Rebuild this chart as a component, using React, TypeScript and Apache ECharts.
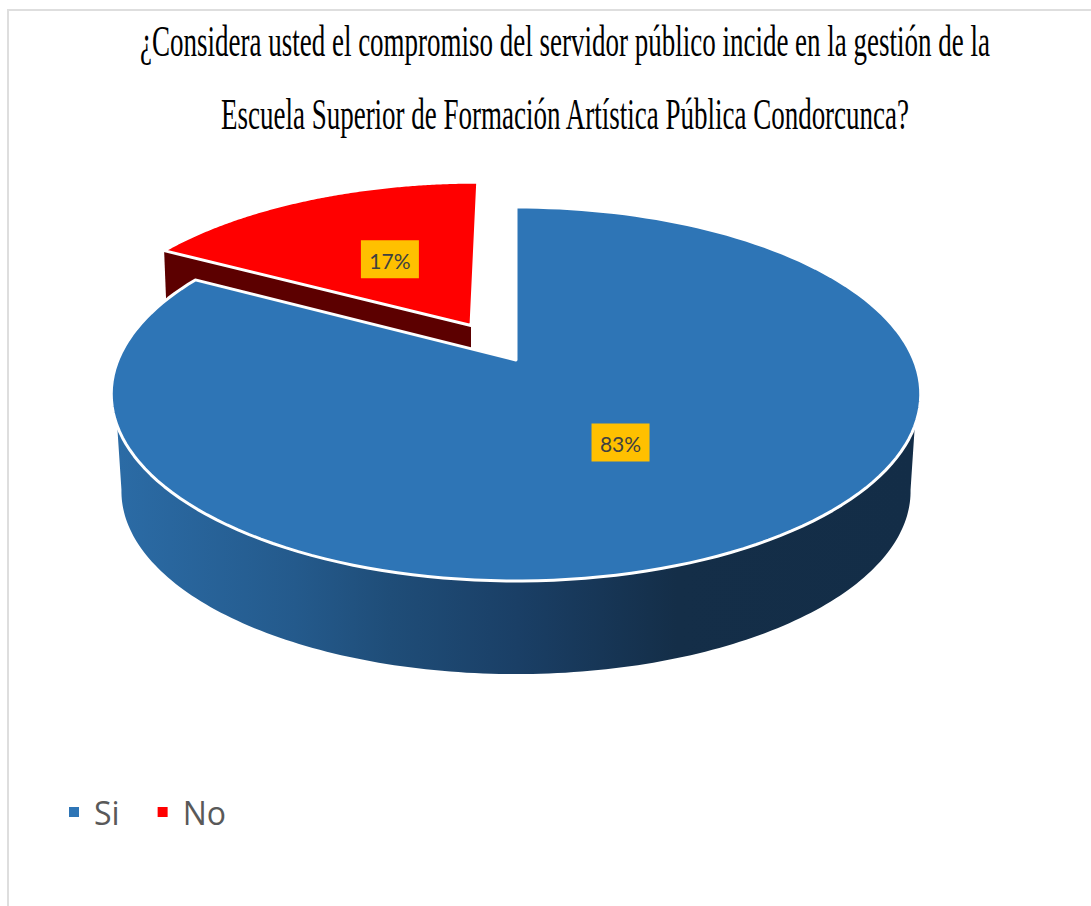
import React, { useEffect, useRef } from "react";
import * as echarts from "echarts";

const categories = ["Si", "No"];
const shares = [83, 17];
const explode = [0, 0.23];
const titleLines = [
  "¿Considera usted el compromiso del servidor público incide en la gestión de la",
  "Escuela Superior de Formación Artística Pública Condorcunca?",
];

const total = shares.reduce((a, b) => a + b, 0);
const TAU = Math.PI * 2;

// Perspective projection of the unit disk onto the page: the disk centre lands
// above the centre of the resulting ellipse, as in a tilted 3D pie.
const TILT = 0.1818;
const top3d = { cx: 516, cy: 360, rx: 398, ry: 180.8 };
const base3d = { cx: 516, cy: 458, rx: 388, ry: 176.8 };

function project(u: number, v: number, plane = top3d): [number, number] {
  const w = 1 + TILT * v;
  return [plane.cx + (plane.rx * u) / w, plane.cy - (plane.ry * v) / w];
}

function rimPoints(from: number, to: number, ox: number, oy: number, plane = top3d) {
  const pts: [number, number][] = [];
  const n = 160;
  for (let i = 0; i <= n; i++) {
    const a = from + ((to - from) * i) / n;
    pts.push(project(ox + Math.sin(a), oy + Math.cos(a), plane));
  }
  return pts;
}

const sideFill = new echarts.graphic.LinearGradient(
  120,
  0,
  915,
  0,
  [
    { offset: 0, color: "#2B6BA5" },
    { offset: 0.22, color: "#245A8C" },
    { offset: 0.34, color: "#1F4D78" },
    { offset: 0.5, color: "#1A3F66" },
    { offset: 0.7, color: "#142E48" },
    { offset: 1, color: "#132D47" },
  ],
  true
);

function makeRenderItem(index: number, topColor: string) {
  return (_params: any, api: any) => {
    const value = api.value(0);
    const before = shares.slice(0, index).reduce((a, b) => a + b, 0);
    const start = (before / total) * TAU;
    const end = ((before + value) / total) * TAU;
    const mid = (start + end) / 2;
    const ox = explode[index] * Math.sin(mid);
    const oy = explode[index] * Math.cos(mid);
    const apex = project(ox, oy);
    const rim = rimPoints(start, end, ox, oy);
    const children: any[] = [];

    if (explode[index] === 0) {
      // Outer wall of the front half of the pie.
      const frontTop = rimPoints((110 / 360) * TAU, (250 / 360) * TAU, ox, oy);
      const frontBase = rimPoints((100 / 360) * TAU, (260 / 360) * TAU, ox, oy, base3d).reverse();
      children.push({
        type: "polygon",
        shape: { points: [...frontTop, ...frontBase] },
        style: { fill: sideFill },
      });
    } else {
      // Visible cut face of the pulled-out slice.
      const tip = rim[0];
      const depth = 50;
      children.push({
        type: "polygon",
        shape: {
          points: [
            apex,
            tip,
            [tip[0] + 2, tip[1] + depth],
            [apex[0], apex[1] + depth],
          ],
        },
        style: { fill: "#5C0000" },
      });
    }

    children.push({
      type: "polygon",
      shape: { points: [apex, ...rim] },
      style: { fill: topColor, stroke: "#FFFFFF", lineWidth: 3, lineJoin: "round" },
    });

    // Value tag sits a little inside the middle of the slice.
    const r = 0.49;
    const nudge = index === 0 ? -3 : 5;
    const [px, ly] = project(ox + r * Math.sin(mid), oy + r * Math.cos(mid));
    const lx = px + nudge;
    children.push({
      type: "rect",
      shape: { x: lx - 29, y: ly - 19, width: 58, height: 38 },
      style: { fill: "#FFC000" },
    });
    children.push({
      type: "text",
      x: lx,
      y: ly + 1,
      style: {
        text: `${value}%`,
        fill: "#404040",
        font: "21px Lato",
        align: "center",
        verticalAlign: "middle",
      },
    });
    return { type: "group", children };
  };
}

export default function App() {
  const ref = useRef<HTMLDivElement>(null);

  useEffect(() => {
    const chart = echarts.init(ref.current!, undefined, { renderer: "svg" });
    chart.setOption({
      animation: false,
      backgroundColor: "#FFFFFF",
      legend: {
        data: categories,
        left: 69,
        top: 796,
        padding: 0,
        icon: "rect",
        itemWidth: 10,
        itemHeight: 10,
        itemGap: 38,
        textStyle: {
          color: "#595959",
          fontSize: 32,
          fontFamily: "Open Sans",
          padding: [0, 0, 0, 10],
        },
      },
      graphic: [
        {
          type: "line",
          shape: { x1: 8, y1: 10, x2: 8, y2: 906 },
          style: { stroke: "#DEDEDE", lineWidth: 2 },
        },
        {
          type: "line",
          shape: { x1: 7, y1: 10, x2: 1091, y2: 10 },
          style: { stroke: "#DEDEDE", lineWidth: 2 },
        },
        ...titleLines.map((line, i) => ({
          type: "text",
          x: 565,
          y: i === 0 ? 41 : 114,
          scaleX: 0.6,
          originX: 0,
          style: {
            text: line,
            fill: "#000000",
            font: '45px "Liberation Serif"',
            align: "center",
            verticalAlign: "middle",
          },
        })),
      ],
      series: categories.map((name, i) => ({
        type: "custom",
        name,
        coordinateSystem: "none",
        z: 3 - i,
        itemStyle: { color: i === 0 ? "#2E75B6" : "#FF0000" },
        renderItem: makeRenderItem(i, i === 0 ? "#2E75B6" : "#FF0000"),
        data: [[shares[i]]],
      })),
    });
    return () => chart.dispose();
  }, []);

  return <div ref={ref} style={{ position: "fixed", left: 0, top: 0, width: 1091, height: 906 }} />;
}
